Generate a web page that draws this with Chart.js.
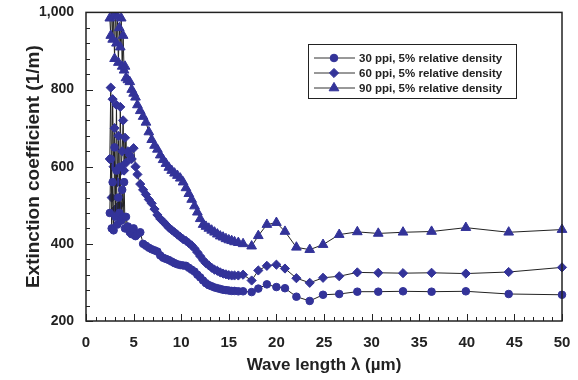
<!DOCTYPE html>
<html>
<head>
<meta charset="utf-8">
<script src="https://cdn.jsdelivr.net/npm/chart.js@4/dist/chart.umd.min.js"></script>
<style>
  html, body { margin: 0; padding: 0; background: #fff; }
  #wrap { width: 578px; height: 380px; }
</style>
</head>
<body>
<div id="wrap"><canvas id="extinctionChart"></canvas></div>
<script>
// wavelength (µm), shared by all three samples
const wavelength = [
    2.5, 2.6, 2.7, 2.8, 2.9, 3.0, 3.1, 3.2, 3.3, 3.4,
    3.5, 3.6, 3.7, 3.8, 3.9, 4.0, 4.1, 4.2, 4.4, 4.6,
    4.8, 5.0, 5.2, 5.4, 5.7, 6.0, 6.3, 6.6, 6.9, 7.2,
    7.5, 7.8, 8.1, 8.4, 8.7, 9.0, 9.3, 9.6, 9.9, 10.2,
    10.5, 10.8, 11.1, 11.4, 11.7, 12.0, 12.3, 12.6, 12.9, 13.2,
    13.5, 13.8, 14.1, 14.4, 14.7, 15.0, 15.3, 15.6, 16.0, 16.5,
    17.4, 18.1, 19.0, 20.0, 20.9, 22.1, 23.5, 24.9, 26.6, 28.5,
    30.7, 33.3, 36.3, 39.9, 44.4, 50.0
];

const ppi30 = [
    480, 620, 440, 560, 435, 650, 470, 590, 450, 520,
    480, 600, 460, 540, 470, 560, 440, 470, 445, 430,
    425, 440, 420, 425, 430, 400, 395, 390, 386, 383,
    380, 370, 364, 361, 358, 354, 350, 347, 345, 344,
    343, 338, 333, 328, 320, 313, 305, 298, 293, 290,
    287, 285, 283, 281, 280, 279, 278, 278, 277, 277,
    275, 284, 295, 288, 285, 263, 252, 268, 270, 276,
    276, 277, 276, 277, 270, 268
];

const ppi60 = [
    620, 805, 520, 775, 600, 700, 490, 760, 560, 680,
    500, 755, 590, 640, 720, 590, 675, 610, 640, 630,
    620, 648, 600, 580, 555, 540, 528, 515, 505, 490,
    475, 465, 458, 450, 442, 436, 430, 424, 418, 412,
    408, 402, 396, 388, 378, 368, 358, 350, 344, 338,
    333, 330, 326, 323, 321, 319, 318, 318, 318, 320,
    305, 331, 343, 346, 336, 311, 299, 312, 316, 326,
    325, 324, 325, 323, 327, 339
];

const ppi90 = [
    985, 940, 1040, 930, 990, 880, 1020, 920, 990, 870,
    960, 910, 985, 860, 940, 850, 860, 830, 825, 820,
    800, 790, 780, 760, 745, 730, 715, 690, 670, 655,
    645, 630, 618, 608, 598, 590, 583, 577, 570, 560,
    545, 530, 515, 498, 482, 465, 450, 445, 440, 435,
    430, 425, 420, 417, 413, 410, 408, 405, 403, 400,
    394, 421, 450, 455, 432, 391, 385, 398, 424, 431,
    427, 430, 432, 442, 430, 437
];

const seriesLabels = [
    '30 ppi, 5% relative density',
    '60 ppi, 5% relative density',
    '90 ppi, 5% relative density'
];
const pointStyles = ['circle', 'rectRot', 'triangle'];
const pointSizes = [3.8, 4.6, 5.6];

const MARKER = '#333399';
const FONT = "'Liberation Sans', Arial, sans-serif";

const toPoints = (values) => values.map((v, i) => ({ x: wavelength[i], y: v }));

// inward tick marks + frame around the plot
const frameTicks = {
    id: 'frameTicks',
    afterDatasetsDraw(chart) {
        const { ctx, chartArea: a, scales: { x, y } } = chart;
        ctx.save();
        ctx.strokeStyle = '#222';
        ctx.lineWidth = 1;
        ctx.beginPath();
        for (let v = 0; v <= 50; v += 1) {
            const px = Math.round(x.getPixelForValue(v)) + 0.5;
            const len = v % 5 === 0 ? 7 : 4;
            ctx.moveTo(px, a.bottom);
            ctx.lineTo(px, a.bottom - len);
        }
        for (let v = 200; v <= 1000; v += 40) {
            const py = Math.round(y.getPixelForValue(v)) + 0.5;
            const len = v % 200 === 0 ? 7 : 4;
            ctx.moveTo(a.left, py);
            ctx.lineTo(a.left + len, py);
        }
        ctx.stroke();
        ctx.lineWidth = 1.5;
        ctx.strokeRect(a.left, a.top, a.right - a.left, a.bottom - a.top);
        ctx.restore();
    }
};

// boxed legend inside the plot, line + marker sample
const boxLegend = {
    id: 'boxLegend',
    afterDraw(chart) {
        const { ctx } = chart;
        const bx = 308, by = 44, bw = 208, bh = 54;
        ctx.save();
        ctx.fillStyle = '#fff';
        ctx.fillRect(bx, by, bw, bh);
        ctx.strokeStyle = '#222';
        ctx.lineWidth = 1;
        ctx.strokeRect(bx + 0.5, by + 0.5, bw, bh);
        chart.data.datasets.forEach((ds, i) => {
            const cy = by + 14 + i * 15;
            ctx.strokeStyle = '#333';
            ctx.lineWidth = 1;
            ctx.beginPath();
            ctx.moveTo(bx + 6, cy);
            ctx.lineTo(bx + 47, cy);
            ctx.stroke();
            ctx.fillStyle = MARKER;
            ctx.strokeStyle = MARKER;
            Chart.helpers.drawPoint(ctx, {
                pointStyle: ds.pointStyle,
                radius: ds.pointRadius,
                rotation: 0,
                borderWidth: 1
            }, bx + 26, cy);
            ctx.fillStyle = '#222';
            ctx.font = 'bold 11.5px ' + FONT;
            ctx.textBaseline = 'middle';
            ctx.fillText(ds.label, bx + 51, cy + 0.5);
        });
        ctx.restore();
    }
};

const datasets = [ppi30, ppi60, ppi90].map((vals, i) => ({
    label: seriesLabels[i],
    data: toPoints(vals),
    borderColor: '#222',
    borderWidth: 1,
    backgroundColor: MARKER,
    pointBackgroundColor: MARKER,
    pointBorderColor: MARKER,
    pointBorderWidth: 1,
    pointStyle: pointStyles[i],
    pointRadius: pointSizes[i],
    tension: 0,
    clip: { left: 8, right: 8, top: 0, bottom: 8 }
}));

const ctx = document.getElementById('extinctionChart').getContext('2d');
window.extinctionChart = new Chart(ctx, {
    type: 'line',
    data: { datasets: datasets },
    options: {
        responsive: true,
        maintainAspectRatio: false,
        animation: false,
        events: [],
        layout: { padding: { top: 10, right: 16, left: 0, bottom: 0 } },
        plugins: {
            legend: { display: false },
            tooltip: { enabled: false },
            title: { display: false }
        },
        scales: {
            x: {
                type: 'linear',
                min: 0,
                max: 50,
                grid: { display: false },
                border: { display: false },
                ticks: {
                    stepSize: 5,
                    padding: 5,
                    color: '#222',
                    font: { family: FONT, size: 15, weight: 'bold' }
                },
                title: {
                    display: true,
                    text: 'Wave length λ (µm)',
                    color: '#222',
                    padding: { top: 0, bottom: 4 },
                    font: { family: FONT, size: 17, weight: 'bold' }
                },
                afterFit: (scale) => { scale.height = 59; }
            },
            y: {
                min: 200,
                max: 1000,
                grid: { display: false },
                border: { display: false },
                ticks: {
                    stepSize: 200,
                    padding: 4,
                    color: '#222',
                    font: { family: FONT, size: 14, weight: 'bold' }
                },
                title: {
                    display: true,
                    text: 'Extinction coefficient (1/m)',
                    color: '#222',
                    padding: { top: 22, bottom: 0 },
                    font: { family: FONT, size: 19, weight: 'bold' }
                },
                afterFit: (scale) => { scale.width = 86; }
            }
        }
    },
    plugins: [frameTicks, boxLegend]
});
</script>
</body>
</html>
